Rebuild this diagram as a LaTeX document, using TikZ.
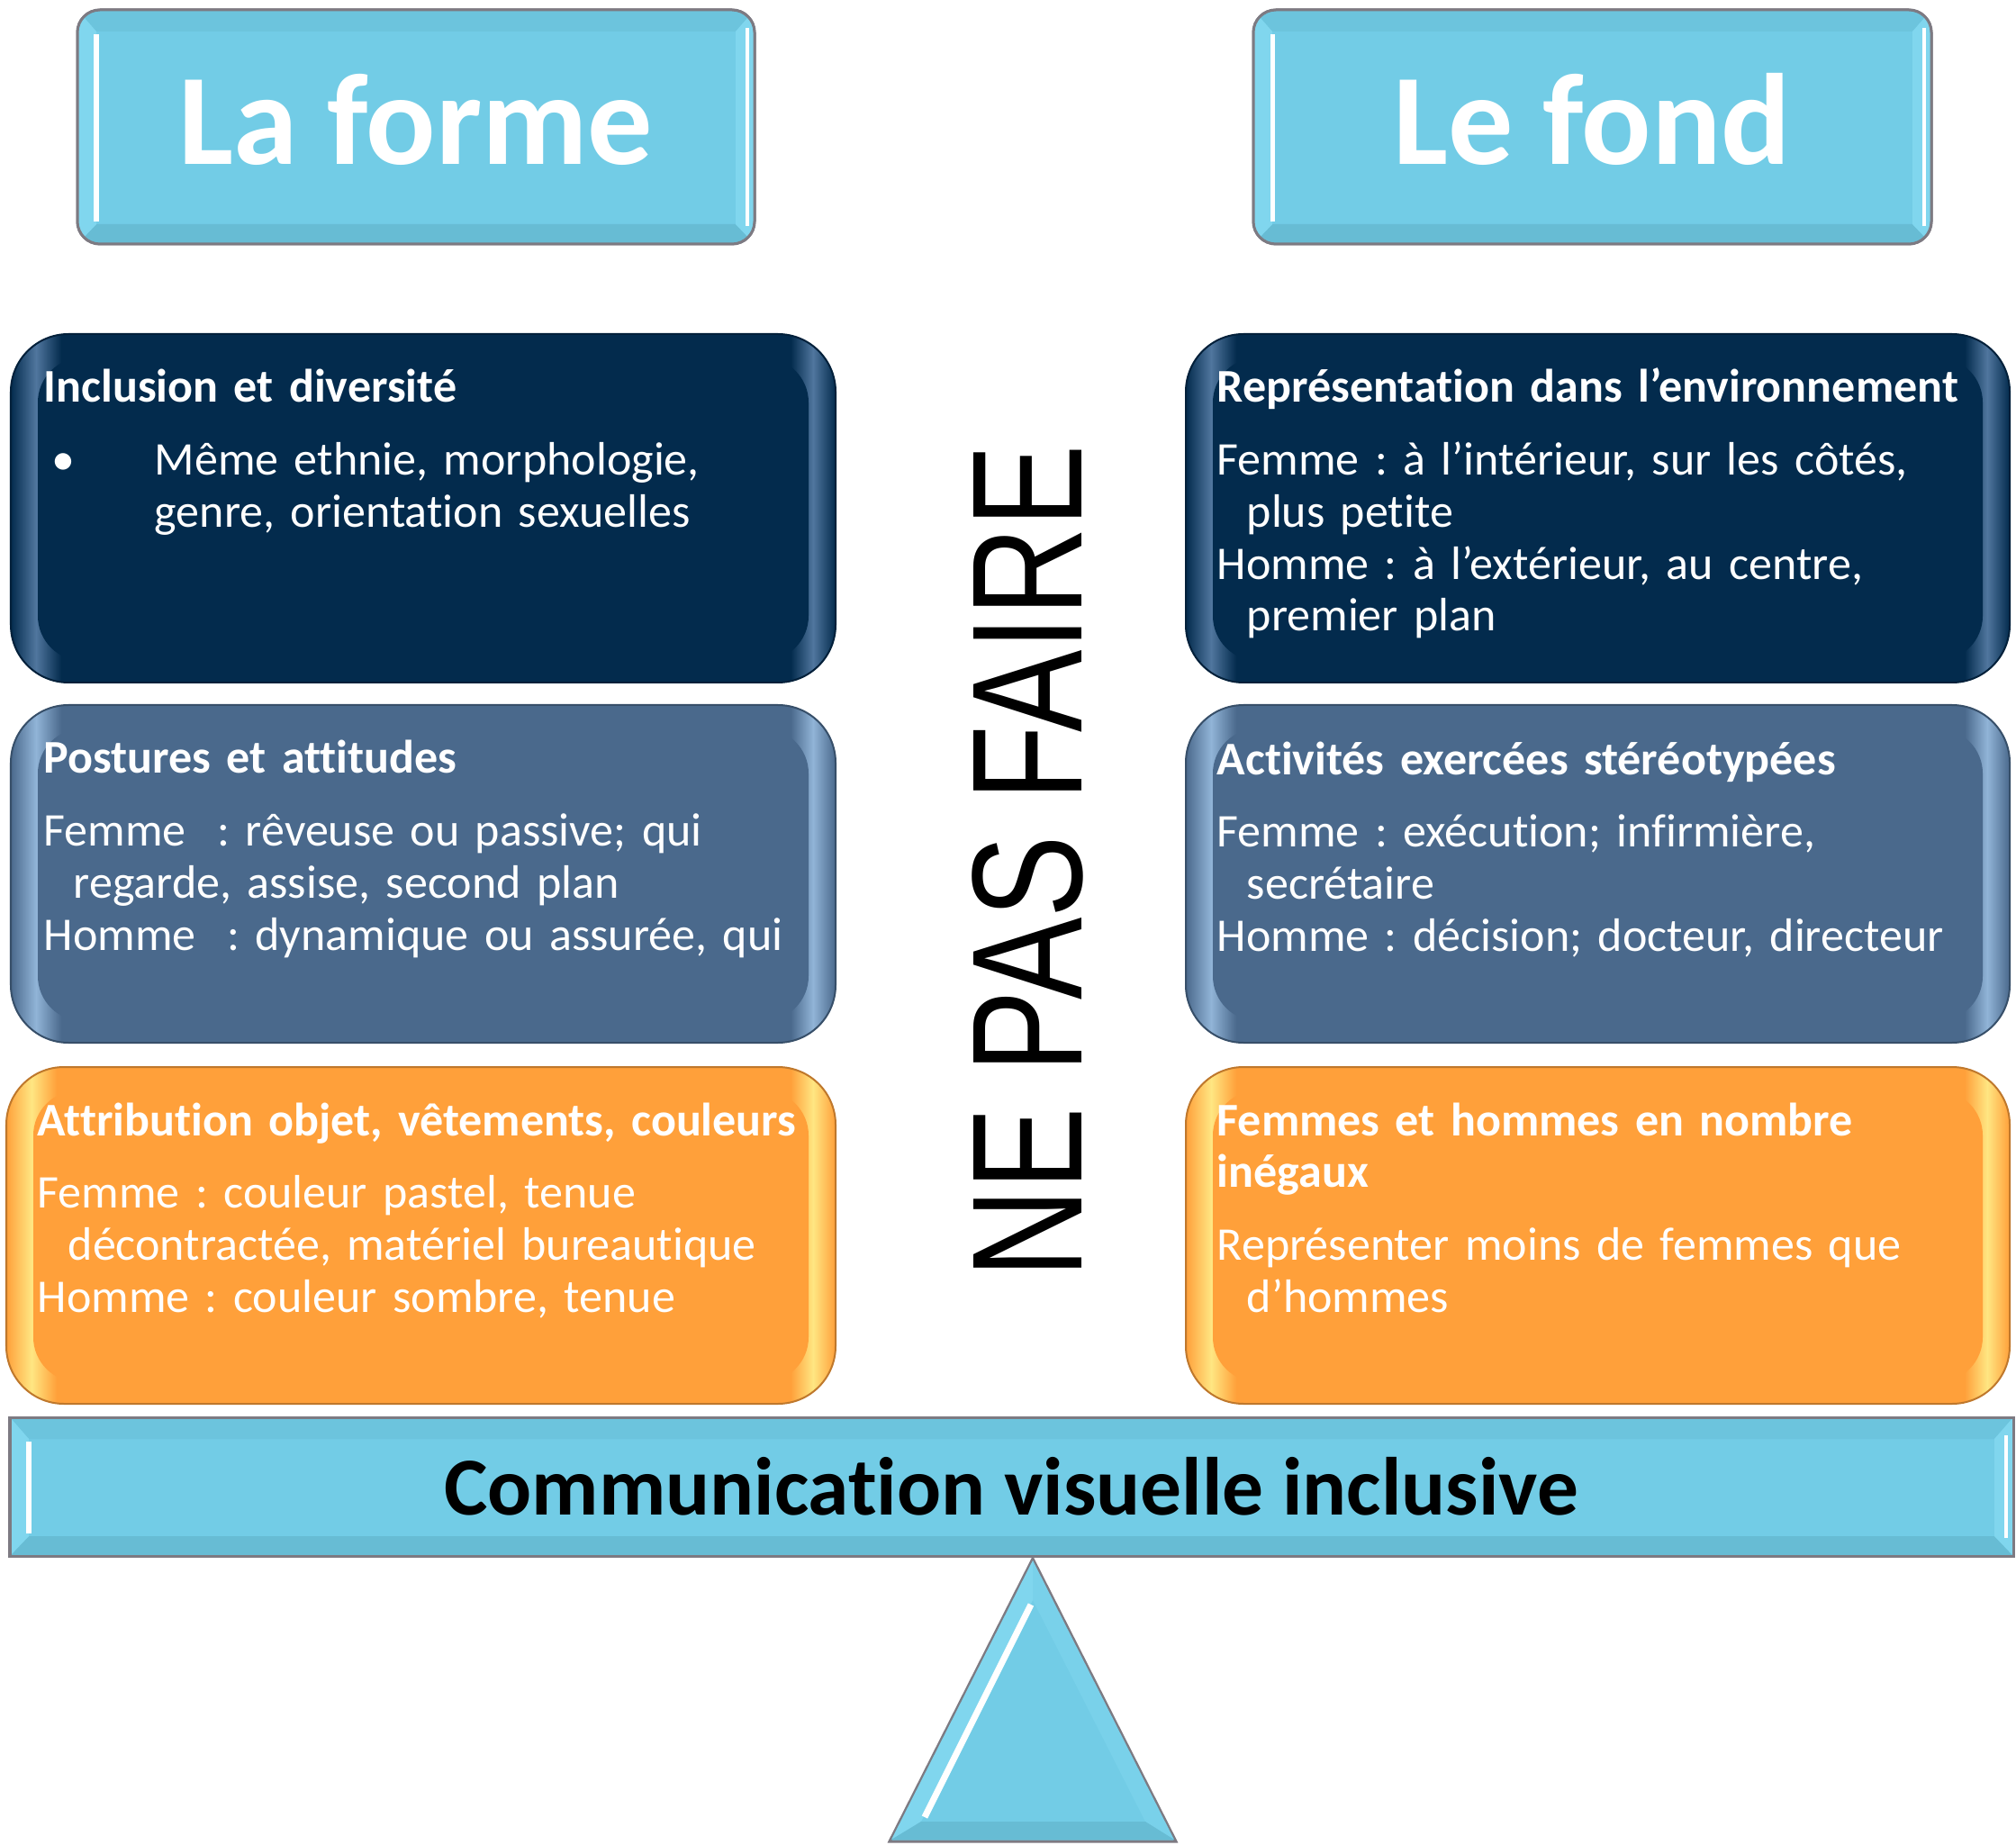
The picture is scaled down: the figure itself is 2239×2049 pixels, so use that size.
\documentclass[tikz,border=0pt]{standalone}
\usepackage{fontspec}
\setmainfont{Carlito}[Ligatures=NoCommon]
\newfontfamily\signfont{Liberation Sans}
\usetikzlibrary{calc}
\frenchspacing

\definecolor{skyfill}{RGB}{114,204,230}
\definecolor{skydark}{RGB}{103,188,212}
\definecolor{skylight}{RGB}{128,214,238}
\definecolor{rimgray}{RGB}{125,122,130}
\definecolor{navyfill}{RGB}{3,43,77}
\definecolor{navyglow}{RGB}{80,118,158}
\definecolor{steelfill}{RGB}{74,105,140}
\definecolor{steelglow}{RGB}{145,180,215}
\definecolor{orangefill}{RGB}{255,160,58}
\definecolor{orangeglow}{RGB}{255,230,130}

\def\bevelpanel[#1](#2,#3)(#4,#5){\begin{scope}
	\draw[fill=skyfill, draw=rimgray, line width=0.03cm, rounded corners=#1] (#2,#3) rectangle (#4,#5);
	\clip[rounded corners=#1] (#2,#3) rectangle (#4,#5);
	\fill[skydark!50!skyfill] (#2,#3) -- (#4,#3) -- ({#4-21},{#3+24}) -- ({#2+21},{#3+24}) -- cycle;
	\fill[skydark] (#2,#5) -- (#4,#5) -- ({#4-21},{#5-22}) -- ({#2+21},{#5-22}) -- cycle;
	\fill[skylight] (#2,#3) -- ({#2+21},{#3+24}) -- ({#2+21},{#5-22}) -- (#2,#5) -- cycle;
	\fill[skylight] (#4,#3) -- ({#4-21},{#3+24}) -- ({#4-21},{#5-22}) -- (#4,#5) -- cycle;
	\draw[white, line width=0.05cm] ({#2+21},{#3+27}) -- ({#2+21},{#5-25});
	\draw[white, line width=0.04cm] ({#4-8},{#3+20}) -- ({#4-8},{#5-20});
	\end{scope}
	\draw[draw=rimgray, line width=0.03cm, rounded corners=#1] (#2,#3) rectangle (#4,#5);}

\def\glowbox[#1][#2](#3,#4)(#5,#6){\begin{scope}
	\clip[rounded corners=0.64cm] (#3,#4) rectangle (#5,#6);
	\fill[#1] (#3,#4) rectangle (#5,#6);
	\shade[left color=#1, right color=#1, middle color=#2] (#3,#4) rectangle ({#3+56},#6);
	\shade[left color=#1, right color=#1, middle color=#2] ({#5-50},#4) rectangle (#5,#6);
	\fill[#1, rounded corners=0.5cm] ({#3+30},{#4+26}) rectangle ({#5-30},{#6-24});
	\end{scope}
	\draw[draw=#1!75!black, line width=0.02cm, rounded corners=0.64cm] (#3,#4) rectangle (#5,#6);}

\tikzset{
	headtext/.style={font=\fontsize{41}{45}\selectfont\bfseries, text=white, inner sep=0pt, anchor=base},
	boxtext/.style={font=\fontsize{14.8}{16.4}\selectfont, text=white, inner sep=0pt, anchor=base west, text width=9cm},
}

\begin{document}
\begin{tikzpicture}[x=0.01cm, y=-0.01cm]
		%%%%% START %%%%%
		\useasboundingbox (0,0) rectangle (2239,2049);
		
		\bevelpanel[0.25cm](86,11)(838,271)
		\bevelpanel[0.25cm](1392,11)(2145,271)
		
		\glowbox[navyfill][navyglow](12,371)(928,758)
		\glowbox[navyfill][navyglow](1317,371)(2232,758)
		\glowbox[steelfill][steelglow](12,783)(928,1158)
		\glowbox[steelfill][steelglow](1317,783)(2232,1158)
		\glowbox[orangefill][orangeglow](7,1185)(928,1559)
		\glowbox[orangefill][orangeglow](1317,1185)(2232,1559)
		
		\bevelpanel[0pt](11,1574)(2236,1728)
		
		% pivot
		\draw[fill=skyfill, draw=rimgray, line width=0.03cm] (1147,1731) -- (1306,2045) -- (988,2045) -- cycle;
		\fill[skylight] (1147,1733) -- (1147,1777) -- (1023,2023) -- (990,2043) -- cycle;
		\fill[skylight!50!skyfill] (1147,1733) -- (1304,2043) -- (1272,2023) -- (1147,1777) -- cycle;
		\fill[skydark] (990,2043) -- (1304,2043) -- (1272,2023) -- (1023,2023) -- cycle;
		\draw[white, line width=0.07cm] (1145,1782) -- (1027,2018);
		
		\node[headtext] (forme) at (462,183) {La forme};
		\node[headtext] (fond) at (1768,183) {Le fond};
		
		\node[boxtext] (inclusion) at (48,447) {\textbf{Inclusion et diversité}\\[6.6pt]
			\makebox[1.23cm][l]{\hspace*{0.09cm}\textbullet}Même ethnie, morphologie,\\
			\hspace*{1.23cm}genre, orientation sexuelles};
		\node[boxtext] (postures) at (48,859) {\textbf{Postures et attitudes}\\[6.6pt]
			Femme\ \ : rêveuse ou passive; qui\\
			\hspace*{0.33cm}regarde, assise, second plan\\
			Homme\ \ : dynamique ou assurée, qui};
		\node[boxtext] (attribution) at (41,1261) {\textbf{Attribution objet, vêtements, couleurs}\\[6.6pt]
			Femme : couleur pastel, tenue\\
			\hspace*{0.34cm}décontractée, matériel bureautique\\
			Homme : couleur sombre, tenue};
		
		\node[boxtext] (representation) at (1351,447) {\textbf{Représentation dans l’environnement}\\[6.6pt]
			Femme : à l’intérieur, sur les côtés,\\
			\hspace*{0.33cm}plus petite\\
			Homme : à l’extérieur, au centre,\\
			\hspace*{0.33cm}premier plan};
		\node[boxtext] (activites) at (1351,860) {\textbf{Activités exercées stéréotypées}\\[6.6pt]
			Femme : exécution; infirmière,\\
			\hspace*{0.33cm}secrétaire\\
			Homme : décision; docteur, directeur};
		\node[boxtext] (nombre) at (1351,1261) {\textbf{Femmes et hommes en nombre}\\
			\textbf{inégaux}\\[6.6pt]
			Représenter moins de femmes que\\
			\hspace*{0.33cm}d’hommes};
		
		\node[font=\signfont\fontsize{49.6}{52}\selectfont, rotate=90, xscale=0.785, inner sep=0pt] (nepas) at (1141,957) {NE PAS FAIRE};
		
		\node[font=\fontsize{26}{30}\selectfont\bfseries, inner sep=0pt, anchor=base] (visuel) at (1123,1682) {Communication visuelle inclusive};
		
		%%%%% END %%%%%
	\end{tikzpicture}
\end{document}
